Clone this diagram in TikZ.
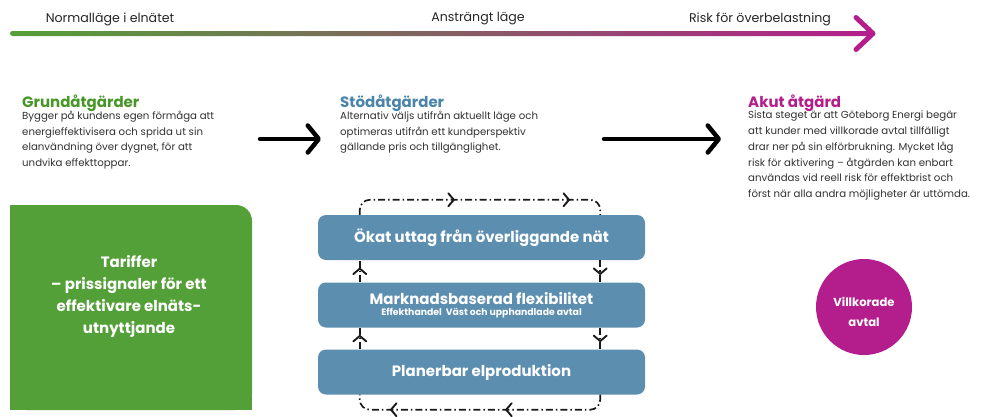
\documentclass[tikz,border=0pt]{standalone}
\usepackage{fontspec}
\setmainfont{Poppins}
\usetikzlibrary{arrows.meta,decorations.markings,calc}
\definecolor{ggreen}{RGB}{84,160,56}
\definecolor{hgreen}{RGB}{72,150,40}
\definecolor{gmag}{RGB}{180,30,140}
\definecolor{hblue}{RGB}{74,132,170}
\definecolor{bblue}{RGB}{92,142,176}
\definecolor{bodygrey}{RGB}{50,50,50}
\definecolor{loopc}{RGB}{25,25,25}
\tikzset{
  toplabel/.style={font=\fontsize{12.6}{14}\selectfont, text=black!85, inner sep=0},
  heading/.style={font=\fontsize{15}{17}\selectfont\bfseries, anchor=west, inner sep=0},
  bodytext/.style={font=\fontsize{10.2}{15.7}\selectfont, text=bodygrey, anchor=north west, align=left, inner sep=0},
  bluebox/.style={fill=bblue, rounded corners=8pt, minimum width=327pt, minimum height=45pt, text=white, align=center, inner sep=0},
  bigarrow/.style={line width=4.5pt, line cap=round, line join=round, -{Straight Barb[length=11pt,width=27pt,line cap=round,line join=round]}},
  loopline/.style={line width=1.7pt, loopc, dash pattern=on 7pt off 3pt on 1.5pt off 3pt, rounded corners=10pt},
  chevdraw/.style={solid, sharp corners, line width=1.9pt, line cap=round, line join=miter, loopc},
  chevmark/.style={decoration={markings, mark=at position #1 with {\draw[chevdraw] (-5.5pt,-6.5pt) -- (0pt,0pt) -- (-5.5pt,6.5pt);}}, postaction={decorate}},
  twochev/.style 2 args={decoration={markings,
     mark=at position #1 with {\draw[chevdraw] (-5.5pt,-6.5pt) -- (0pt,0pt) -- (-5.5pt,6.5pt);},
     mark=at position #2 with {\draw[chevdraw] (-5.5pt,-6.5pt) -- (0pt,0pt) -- (-5.5pt,6.5pt);}}, postaction={decorate}},
}
\begin{document}
\begin{tikzpicture}[x=1pt,y=-1pt]
\useasboundingbox (0,0) rectangle (982,416);
% top gradient arrow
\coordinate (gs) at (10,33.5);
\coordinate (ge) at (873,33.5);
\shade[left color=ggreen, right color=gmag, rounded corners=2.5pt] ($(gs)+(0,-2.5)$) rectangle ($(ge)+(-2,2.5)$);
\draw[gmag, line width=5pt, line cap=round, line join=round] ($(ge)+(-17,-16)$) -- (ge) -- ($(ge)+(-17,16)$);
\node[toplabel] (l1) at (110,19) {Normalläge i elnätet};
\node[toplabel] (l2) at (478,19) {Ansträngt läge};
\node[toplabel] (l3) at (760,19) {Risk för överbelastning};
% headings
\node[heading, text=hgreen] (h1) at (22,103) {Grundåtgärder};
\node[heading, text=hblue] (h2) at (340,103) {Stödåtgärder};
\node[heading, text=gmag] (h3) at (748,103) {Akut åtgärd};
\node[bodytext] (t1) at (22,111) {Bygger på kundens egen förmåga att\\energieffektivisera och sprida ut sin\\elanvändning över dygnet, för att\\undvika effekttoppar.};
\node[bodytext] (t2) at (340,111) {Alternativ väljs utifrån aktuellt läge och\\optimeras utifrån ett kundperspektiv\\gällande pris och tillgänglighet.};
\node[bodytext] (t3) at (748,111) {Sista steget är att Göteborg Energi begär\\att kunder med villkorade avtal tillfälligt\\drar ner på sin elförbrukning. Mycket låg\\risk för aktivering – åtgärden kan enbart\\användas vid reell risk för effektbrist och\\först när alla andra möjligheter är uttömda.};
% black arrows
\coordinate (a1s) at (260,139);
\coordinate (a1e) at (321,139);
\coordinate (a2s) at (604,139);
\coordinate (a2e) at (721,139);
\draw[bigarrow] (a1s) -- (a1e);
\draw[bigarrow] (a2s) -- (a2e);
% green box
\fill[ggreen, rounded corners=16pt] (10,205) rectangle (252,410);
\fill[ggreen] (10,205) rectangle (120,410);
\fill[ggreen] (10,300) rectangle (252,410);
\node[text=white, align=center, font=\fontsize{15}{22}\selectfont\bfseries] (tariff) at (129,296) {Tariffer\\– prissignaler för ett\\effektivare elnäts-\\utnyttjande};
% blue boxes
\node[bluebox, font=\fontsize{15}{18}\selectfont\bfseries] (b1) at (481.5,237.5) {Ökat uttag från överliggande nät};
\node[bluebox] (b2) at (481.5,305) {{\fontsize{15}{17}\selectfont\bfseries Marknadsbaserad flexibilitet}\\[-1pt]{\fontsize{9.3}{11}\selectfont\bfseries Effekthandel\ \ Väst och upphandlade avtal}};
\node[bluebox, font=\fontsize{15}{18}\selectfont\bfseries] (b3) at (481.5,372) {Planerbar elproduktion};
% loop
\draw[loopline, twochev={0.40}{0.84}]
  ($(b1.north west)+(42,0)$) |- ($(b1.north east)+(-45,-15)$) -- ($(b1.north east)+(-45,0)$);
\draw[loopline, twochev={0.40}{0.84}]
  ($(b3.south east)+(-45,0)$) |- ($(b3.south west)+(42,15)$) -- ($(b3.south west)+(42,0)$);
\draw[loopline, chevmark=0.62]
  ($(b1.south east)+(-45,0)$) -- ($(b2.north east)+(-45,0)$);
\draw[loopline, chevmark=0.62]
  ($(b2.south east)+(-45,0)$) -- ($(b3.north east)+(-45,0)$);
\draw[loopline, chevmark=0.62]
  ($(b2.north west)+(42,0)$) -- ($(b1.south west)+(42,0)$);
\draw[loopline, chevmark=0.62]
  ($(b3.north west)+(42,0)$) -- ($(b2.south west)+(42,0)$);
% circle
\node[circle, fill=gmag, minimum size=96pt, inner sep=0] (vill) at (864,307) {};
\node[text=white, align=center, inner sep=0, font=\fontsize{11.6}{20}\selectfont\bfseries] (villt) at ($(vill.center)+(0,5)$) {Villkorade\\avtal};
\end{tikzpicture}
\end{document}
